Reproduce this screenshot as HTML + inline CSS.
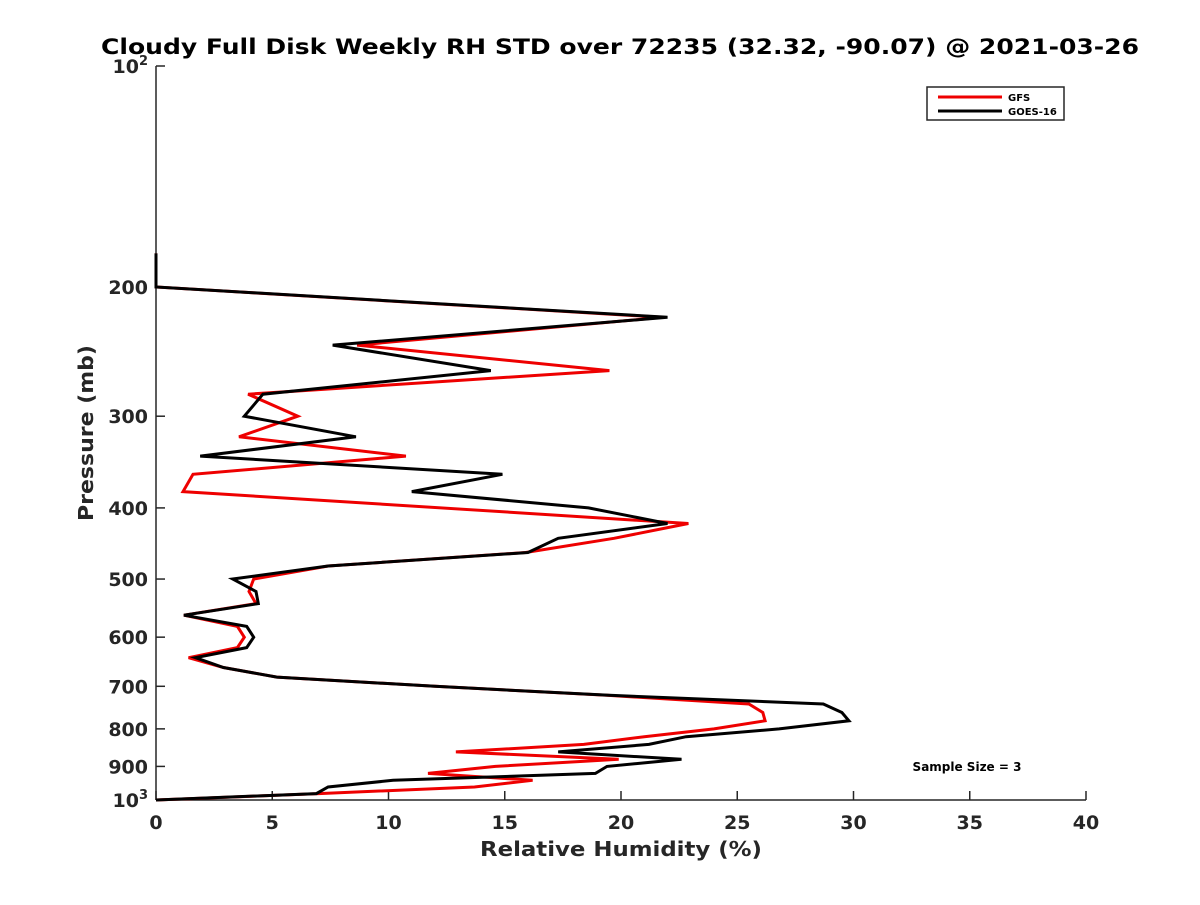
<!DOCTYPE html>
<html><head><meta charset="utf-8"><style>
body{margin:0;background:#fff}
svg text{font-family:"DejaVu Sans","Liberation Sans",sans-serif;font-weight:bold;fill:#262626}
</style></head><body>
<svg id="chart" width="1200" height="900" viewBox="0 0 1200 900" xmlns="http://www.w3.org/2000/svg">
<rect width="1200" height="900" fill="#fff"/>
<text x="620" y="54" text-anchor="middle" font-size="21" textLength="1038" lengthAdjust="spacingAndGlyphs" style="fill:#000">Cloudy Full Disk Weekly RH STD over 72235 (32.32, -90.07) @ 2021-03-26</text>
<g id="axes"></g>
<g id="series"></g>
<text x="621" y="856" text-anchor="middle" font-size="20" textLength="282" lengthAdjust="spacingAndGlyphs">Relative Humidity (%)</text>
<text transform="translate(93,433) rotate(-90)" text-anchor="middle" font-size="20" textLength="176" lengthAdjust="spacingAndGlyphs">Pressure (mb)</text>
<text x="967" y="771" text-anchor="middle" font-size="12" style="fill:#000">Sample Size = 3</text>
<g>
<rect x="927" y="87" width="137" height="33" fill="#fff" stroke="#262626" stroke-width="1.5"/>
<line x1="938" y1="97" x2="1002" y2="97" stroke="#e00" stroke-width="3"/>
<text x="1008" y="101" font-size="10" style="fill:#000">GFS</text>
<line x1="938" y1="111" x2="1002" y2="111" stroke="#000" stroke-width="3"/>
<text x="1008" y="115" font-size="10" style="fill:#000">GOES-16</text>
</g>
</svg>
<script>
const goesP=[180,200,220,240,260,280,300,320,340,360,380,400,420,440,460,480,500,520,540,560,580,600,620,640,660,680,700,720,740,760,780,800,820,840,860,880,900,920,940,960,980,1000];
const goesV=[0,0,22.0,7.6,14.4,4.6,3.8,8.6,1.9,14.9,11.0,18.6,22.0,17.3,16.0,7.4,3.3,4.3,4.4,1.2,3.9,4.2,3.9,1.7,2.9,5.2,12.0,19.5,28.7,29.5,29.8,26.8,22.8,21.2,17.3,22.6,19.4,18.9,10.2,7.4,6.9,0];
const gfsP=[180,200,220,240,260,280,300,320,340,360,380,420,440,460,480,500,520,540,560,580,600,620,640,660,680,700,720,740,760,780,800,820,840,860,880,900,920,940,960,980,1000];
const gfsV=[0,0,21.8,8.65,19.5,3.96,6.1,3.57,10.75,1.59,1.16,22.9,19.7,15.9,7.4,4.2,4.0,4.3,1.2,3.5,3.8,3.5,1.4,2.9,5.2,12.0,19.4,25.5,26.1,26.2,24.0,21.0,18.4,12.9,19.9,14.6,11.7,16.2,13.7,7.0,0];
const xTicks=[0,5,10,15,20,25,30,35,40];
const yTicks=[200,300,400,500,600,700,800,900];
const NS="http://www.w3.org/2000/svg";
const X0=156,X1=1086,Y0=66,Y1=800,XMAX=40;
function sx(v){return X0+(X1-X0)*v/XMAX;}
function sy(p){return Y0+(Y1-Y0)*Math.log10(p/100);}
function mk(t,a,parent){const e=document.createElementNS(NS,t);for(const k in a)e.setAttribute(k,a[k]);parent.appendChild(e);return e;}
const ax=document.getElementById('axes');
let l=mk('line',{x1:X0,y1:Y0,x2:X0,y2:Y1,stroke:'#262626','stroke-width':1.5},ax);


l=mk('line',{x1:X0,y1:Y1,x2:X1,y2:Y1,stroke:'#262626','stroke-width':1.5},ax);


xTicks.forEach(v=>{
  const t=mk('line',{x1:sx(v),y1:Y1,x2:sx(v),y2:Y1-9,stroke:'#262626','stroke-width':1.5},ax);
  
  
  const tx=mk('text',{x:sx(v),y:Y1+29,'text-anchor':'middle','font-size':19},ax);
  tx.textContent=v;
  
  
});
[100,1000].concat(yTicks).forEach(p=>{
  const t=mk('line',{x1:X0,y1:sy(p),x2:X0+9,y2:sy(p),stroke:'#262626','stroke-width':1.5},ax);
  
  
});
yTicks.forEach(p=>{
  const tx=mk('text',{x:X0-8,y:sy(p)+7,'text-anchor':'end','font-size':19},ax);
  tx.textContent=p;
  
  
});
[[100,'2'],[1000,'3']].forEach(([p,e])=>{
  const tx=mk('text',{x:X0-8,y:sy(p)+7,'text-anchor':'end','font-size':19},ax);
  tx.innerHTML='10<tspan dy="-8" font-size="13">'+e+'</tspan>';
  
  
});
const sg=document.getElementById('series');
function draw(P,V,color,name){
  const pts=P.map((p,i)=>sx(V[i]).toFixed(1)+','+sy(p).toFixed(1)).join(' ');
  const pl=mk('polyline',{points:pts,fill:'none',stroke:color,'stroke-width':3,'stroke-linejoin':'miter'},sg);
  
  
}
draw(gfsP,gfsV,'#e00','gfs-line');
draw(goesP,goesV,'#000','goes16-line');
</script>
</body></html>
